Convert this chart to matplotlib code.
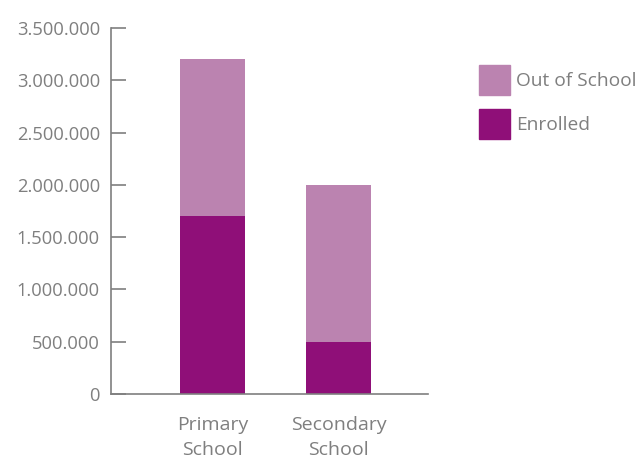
import matplotlib
matplotlib.use("Agg")
import matplotlib.pyplot as plt
from matplotlib.ticker import FuncFormatter
from matplotlib.patches import Patch

categories = ["Primary\nSchool", "Secondary\nSchool"]
enrolled = [1700000, 500000]
out_of_school = [1500000, 1500000]
y_ticks = [0, 500000, 1000000, 1500000, 2000000, 2500000, 3000000, 3500000]

ENROLLED_COLOR = "#8f0f78"
OUT_COLOR = "#bb83b0"
TEXT_COLOR = "#7f7f7f"
AXIS_COLOR = "#7f7f7f"

plt.rcParams["font.family"] = ["Open Sans", "DejaVu Sans"]

fig = plt.figure(figsize=(6.4, 4.59), dpi=100)
ax = fig.add_axes([111 / 640, 65 / 459, 317 / 640, 366 / 459])

x = list(range(len(categories)))
ax.bar(x, enrolled, width=0.516, color=ENROLLED_COLOR, label="Enrolled")
ax.bar(x, out_of_school, width=0.516, bottom=enrolled, color=OUT_COLOR, label="Out of School")

ax.set_xlim(-0.806, 1.71)
ax.set_ylim(0, 3500000)
ax.set_yticks(y_ticks)
ax.yaxis.set_major_formatter(FuncFormatter(lambda v, _: f"{int(v):,}".replace(",", ".")))
ax.set_xticks(x)
ax.set_xticklabels(categories, linespacing=1.5)

for side in ("top", "right"):
    ax.spines[side].set_visible(False)
for side in ("left", "bottom"):
    ax.spines[side].set_color(AXIS_COLOR)
    ax.spines[side].set_linewidth(1.2)

ax.tick_params(axis="y", direction="in", length=11, width=1.2, color=AXIS_COLOR,
               labelcolor=TEXT_COLOR, labelsize=13.2, pad=8)
ax.tick_params(axis="x", length=0, labelcolor=TEXT_COLOR, labelsize=14, pad=16)

handles = [Patch(color=OUT_COLOR), Patch(color=ENROLLED_COLOR)]
fig.legend(handles, ["Out of School", "Enrolled"], loc="upper left",
           bbox_to_anchor=(479 / 640, 1 - 65 / 459), frameon=False, fontsize=13.8,
           labelcolor=TEXT_COLOR, handlelength=1.6, handleheight=2.0,
           handletextpad=0.35, labelspacing=0.75, borderpad=0, borderaxespad=0)

fig.savefig("out.png", dpi=100)
